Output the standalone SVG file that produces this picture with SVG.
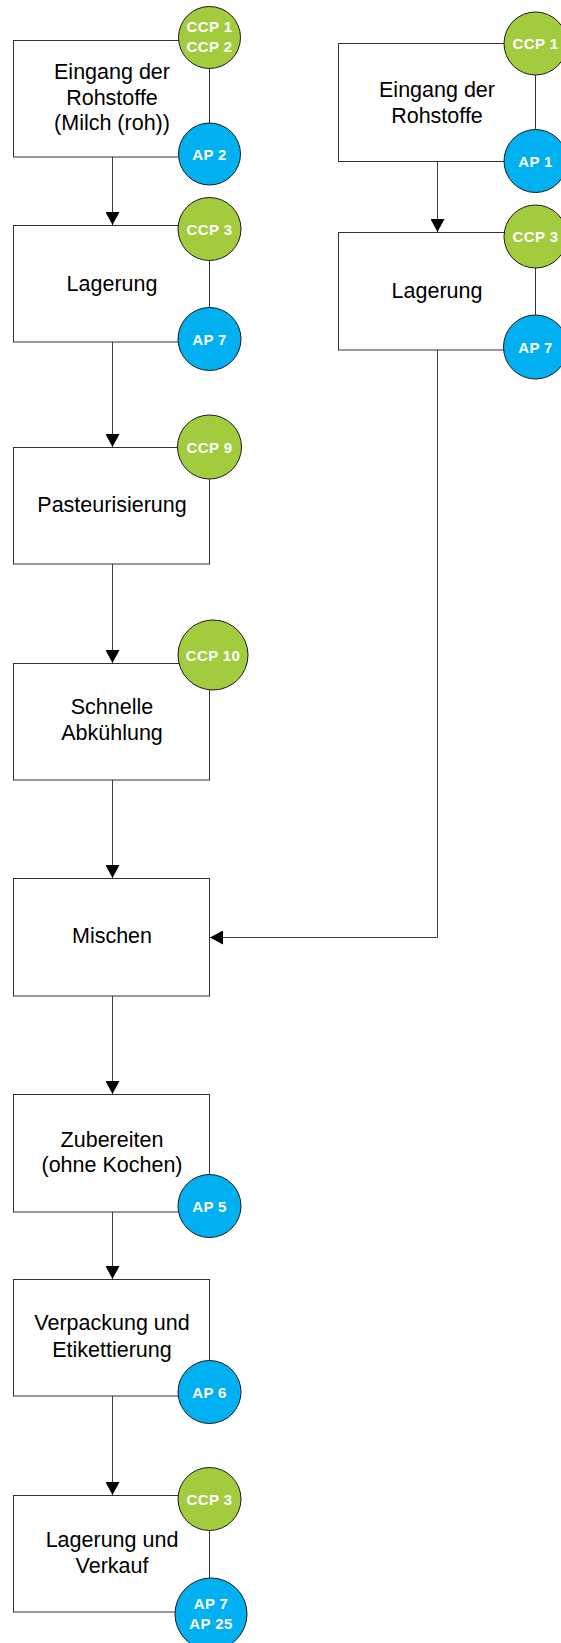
<svg xmlns="http://www.w3.org/2000/svg" width="561" height="1643" viewBox="0 0 561 1643">
<style>
.box{fill:#fff;stroke:#333;stroke-width:1}
.lbl{font-family:"Liberation Sans",Arial,sans-serif;font-size:21.5px;fill:#000;text-anchor:middle}
.ccp{fill:#A2CC3E;stroke:#1a1a1a;stroke-width:1}
.ap{fill:#00B0F0;stroke:#1a1a1a;stroke-width:1}
.ct{font-family:"Liberation Sans",Arial,sans-serif;font-size:15px;font-weight:bold;fill:#fff;text-anchor:middle;letter-spacing:0.4px}
.con{fill:none;stroke:#404040;stroke-width:1}
</style>
<defs>
<marker id="arr" markerUnits="userSpaceOnUse" markerWidth="14" markerHeight="14" viewBox="0 0 13 14" refX="13" refY="7" orient="auto">
<path d="M0,0 L13,7 L0,14 z" fill="#000"/>
</marker>
</defs>
<rect width="561" height="1643" fill="#fff"/>
<g id="connectors">
<path class="con" d="M112.5,157 V225" marker-end="url(#arr)"/>
<path class="con" d="M112.5,342 V447" marker-end="url(#arr)"/>
<path class="con" d="M112.5,564 V663" marker-end="url(#arr)"/>
<path class="con" d="M112.5,780 V878" marker-end="url(#arr)"/>
<path class="con" d="M112.5,996 V1094" marker-end="url(#arr)"/>
<path class="con" d="M112.5,1212 V1279" marker-end="url(#arr)"/>
<path class="con" d="M112.5,1396 V1495" marker-end="url(#arr)"/>
<path class="con" d="M437.5,162 V232" marker-end="url(#arr)"/>
<path class="con" d="M437.5,350 V937.5 H210" marker-end="url(#arr)"/>
</g>
<g id="n1">
<rect class="box" x="13.5" y="40.5" width="196" height="116.5"/>
<text class="lbl" x="112" y="79">Eingang der</text>
<text class="lbl" x="112" y="104.5">Rohstoffe</text>
<text class="lbl" x="112" y="130">(Milch (roh))</text>
<circle class="ccp" cx="209.5" cy="37.5" r="31"/>
<text class="ct" x="209.5" y="32">CCP 1</text>
<text class="ct" x="209.5" y="52">CCP 2</text>
<circle class="ap" cx="209.5" cy="154" r="31"/>
<text class="ct" x="209.5" y="159.5">AP 2</text>
</g>
<g id="n2">
<rect class="box" x="13.5" y="225.5" width="196" height="116.5"/>
<text class="lbl" x="112" y="291">Lagerung</text>
<circle class="ccp" cx="209.5" cy="229" r="31.5"/>
<text class="ct" x="209.5" y="234.5">CCP 3</text>
<circle class="ap" cx="209.5" cy="339" r="31.5"/>
<text class="ct" x="209.5" y="344.5">AP 7</text>
</g>
<g id="n3">
<rect class="box" x="13.5" y="447.5" width="196" height="116.5"/>
<text class="lbl" x="112" y="512">Pasteurisierung</text>
<circle class="ccp" cx="209.5" cy="447" r="32"/>
<text class="ct" x="209.5" y="452.5">CCP 9</text>
</g>
<g id="n4">
<rect class="box" x="13.5" y="663.5" width="196" height="116.5"/>
<text class="lbl" x="112" y="714">Schnelle</text>
<text class="lbl" x="112" y="740">Abkühlung</text>
<circle class="ccp" cx="213" cy="655" r="35"/>
<text class="ct" x="213" y="660.5">CCP 10</text>
</g>
<g id="n5">
<rect class="box" x="13.5" y="878.5" width="196" height="117.5"/>
<text class="lbl" x="112" y="943">Mischen</text>
</g>
<g id="n6">
<rect class="box" x="13.5" y="1094.5" width="196" height="117.5"/>
<text class="lbl" x="112" y="1147">Zubereiten</text>
<text class="lbl" x="112" y="1172">(ohne Kochen)</text>
<circle class="ap" cx="209.5" cy="1206" r="31.5"/>
<text class="ct" x="209.5" y="1211.5">AP 5</text>
</g>
<g id="n7">
<rect class="box" x="13.5" y="1279.5" width="196" height="116.5"/>
<text class="lbl" x="112" y="1330">Verpackung und</text>
<text class="lbl" x="112" y="1357">Etikettierung</text>
<circle class="ap" cx="209.5" cy="1392" r="31.5"/>
<text class="ct" x="209.5" y="1397.5">AP 6</text>
</g>
<g id="n8">
<rect class="box" x="13.5" y="1495.5" width="196" height="116.5"/>
<text class="lbl" x="112" y="1547">Lagerung und</text>
<text class="lbl" x="112" y="1573">Verkauf</text>
<circle class="ccp" cx="209.5" cy="1499" r="31.5"/>
<text class="ct" x="209.5" y="1504.5">CCP 3</text>
<circle class="ap" cx="211" cy="1614" r="36"/>
<text class="ct" x="211" y="1609">AP 7</text>
<text class="ct" x="211" y="1629">AP 25</text>
</g>
<g id="r1">
<rect class="box" x="338.5" y="43.5" width="197" height="118"/>
<text class="lbl" x="437" y="97">Eingang der</text>
<text class="lbl" x="437" y="123">Rohstoffe</text>
<circle class="ccp" cx="535.5" cy="43.5" r="31.5"/>
<text class="ct" x="535.5" y="49">CCP 1</text>
<circle class="ap" cx="535.5" cy="161" r="31.5"/>
<text class="ct" x="535.5" y="166.5">AP 1</text>
</g>
<g id="r2">
<rect class="box" x="338.5" y="232.5" width="197" height="117.5"/>
<text class="lbl" x="437" y="298">Lagerung</text>
<circle class="ccp" cx="535.5" cy="236.5" r="31.5"/>
<text class="ct" x="535.5" y="242">CCP 3</text>
<circle class="ap" cx="535.5" cy="347" r="32"/>
<text class="ct" x="535.5" y="352.5">AP 7</text>
</g>
</svg>
